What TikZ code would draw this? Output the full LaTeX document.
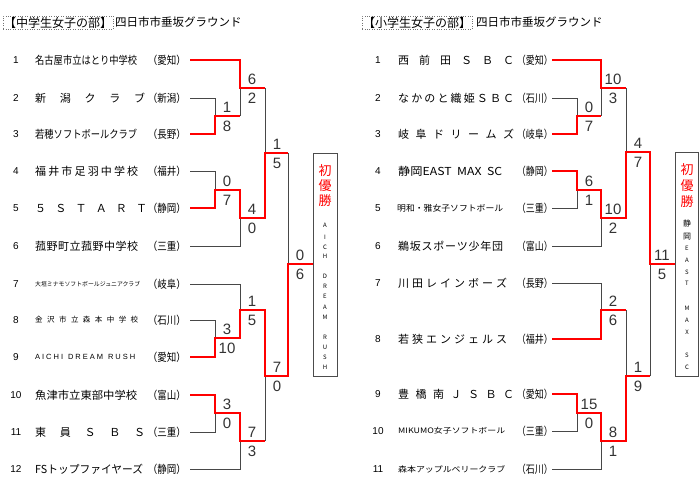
\documentclass[tikz,border=0pt]{standalone}
\usepackage{fontspec}
\usepackage{graphicx}
\setmainfont{Liberation Sans}
\newfontfamily\jp{Noto Sans CJK JP}
\newfontfamily\ar{Liberation Sans}
\newcommand\fitw[3]{\resizebox{#1pt}{\height}{\fontsize{#2}{#2}\selectfont #3}}
\newcommand\spr[3]{\makebox[#1pt][s]{\fontsize{#2}{#2}\selectfont #3}}
\tikzset{
  loseline/.style={draw=black!72, line width=0.9pt},
  winline/.style={draw=red, line width=2.4pt, line join=miter},
  score/.style={font=\ar\fontsize{15}{15}\selectfont, text=black!80, inner sep=0pt},
  scoreup/.style={score, xshift=12pt, yshift=9pt},
  scoredn/.style={score, xshift=12pt, yshift=-10pt},
  rownum/.style={font=\ar\fontsize{10}{10}\selectfont, inner sep=0pt},
  tname/.style={anchor=west, inner sep=0pt, font=\jp\fontsize{11}{11}\selectfont},
  pref/.style={anchor=east, inner sep=0pt, font=\jp},
  champbox/.style={draw=black!70, line width=0.8pt, inner sep=0pt},
  champtxt/.style={text=red, font=\jp\fontsize{13}{13}\selectfont, inner sep=0pt},
  tinytxt/.style={font=\jp\fontsize{6}{6}\selectfont, inner sep=0pt},
  titlebox/.style={draw=black!55, dotted, inner sep=1pt, anchor=west, font=\jp\fontsize{12}{12}\selectfont},
  titletxt/.style={anchor=west, inner sep=0pt, font=\jp\fontsize{11.5}{11.5}\selectfont}
}
\begin{document}
\begin{tikzpicture}[x=1pt,y=-1pt]
\useasboundingbox (0,0) rectangle (700,489);

% ===== titles =====
\node[titlebox] (tl1) at (3,22.5) {【中学生女子の部】};
\node[titletxt] (tl2) at (115,22.5) {四日市市垂坂グラウンド};
\node[titlebox] (tr1) at (362,22.5) {【小学生女子の部】};
\node[titletxt] (tr2) at (476,22.5) {四日市市垂坂グラウンド};

% ===== LEFT: row numbers =====
\foreach \n/\y in {1/60,2/98,3/134,4/171,5/208,6/246,7/284,8/320,9/357,10/395,11/432,12/469}
  \node[rownum] (ln\n) at (16,\y) {\n};

% ===== LEFT: team names =====
\node[tname] (na1) at (35,60) {\fitw{102}{11}{名古屋市立はとり中学校}};
\node[tname] (na2) at (35,98) {\spr{110}{11}{新\hfill 潟\hfill ク\hfill ラ\hfill ブ}};
\node[tname] (na3) at (35,134) {\fitw{102}{11}{若穂ソフトボールクラブ}};
\node[tname] (na4) at (35,171) {\spr{103}{11}{福\hfill 井\hfill 市\hfill 足\hfill 羽\hfill 中\hfill 学\hfill 校}};
\node[tname] (na5) at (35,208) {\spr{112}{11}{５\hfill Ｓ\hfill Ｔ\hfill Ａ\hfill Ｒ\hfill Ｔ}};
\node[tname] (na6) at (35,246) {\spr{103}{11}{菰\hfill 野\hfill 町\hfill 立\hfill 菰\hfill 野\hfill 中\hfill 学\hfill 校}};
\node[tname] (na7) at (35,284) {\fitw{105}{6}{大垣ミナモソフトボールジュニアクラブ}};
\node[tname] (na8) at (35,320) {\spr{103}{7.5}{金\hfill 沢\hfill 市\hfill 立\hfill 森\hfill 本\hfill 中\hfill 学\hfill 校}};
\node[tname] (na9) at (35,357) {\spr{100}{7.5}{\ar A\hfill I\hfill C\hfill H\hfill I\hskip 0pt plus 2.5fill D\hfill R\hfill E\hfill A\hfill M\hskip 0pt plus 2.5fill R\hfill U\hfill S\hfill H}};
\node[tname] (na10) at (35,395) {\fitw{102}{11}{魚津市立東部中学校}};
\node[tname] (na11) at (35,432) {\spr{110}{11}{東\hfill 員\hfill Ｓ\hfill Ｂ\hfill Ｓ}};
\node[tname] (na12) at (35,469) {\fitw{108}{11}{FSトップファイヤーズ}};

% ===== LEFT: prefectures =====
\foreach \n/\y/\p in {1/60/愛知,2/98/新潟,3/134/長野,4/171/福井,5/208/静岡,6/246/三重,7/284/岐阜,8/320/石川,9/357/愛知,10/395/富山,11/432/三重,12/469/静岡}
  \node[pref] (pa\n) at (186,\y) {\fitw{38}{11}{（\p）}};

% ===== LEFT: bracket =====
\foreach \n/\y in {1/60,2/98,3/134,4/171,5/208,6/246,7/284,8/320,9/357,10/395,11/432,12/469}
  \coordinate (L\n) at (190,\y);
\coordinate (jA) at (215,116);
\coordinate (jB) at (240,88);
\coordinate (jC) at (215,190);
\coordinate (jD) at (240,218);
\coordinate (jE) at (265,153);
\coordinate (jF) at (215,338);
\coordinate (jG) at (240,310);
\coordinate (jH) at (215,413);
\coordinate (jI) at (240,441);
\coordinate (jJ) at (265,376);
\coordinate (jK) at (288,264);
\node[champbox, minimum width=24pt, minimum height=223pt] (cbL) at (325,264.5) {};

\draw[loseline] (L2) -| (jA);
\draw[loseline] (jA -| jB) -- (jB);
\draw[loseline] (jB -| jE) -- (jE);
\draw[loseline] (L4) -| (jC);
\draw[loseline] (L6) -| (jD);
\draw[loseline] (jE -| jK) -- (jK);
\draw[loseline] (L7) -| (jG);
\draw[loseline] (L8) -| (jF);
\draw[loseline] (jI -| jJ) -- (jJ);
\draw[loseline] (L11) -| (jH);
\draw[loseline] (L12) -| (jI);

\draw[winline] (L3) -| (jA) -- (jA -| jB);
\draw[winline] (L1) -| (jB) -- (jB -| jE);
\draw[winline] (L5) -| (jC) -- (jC -| jD) -- (jD) -- (jD -| jE) -- (jE) -- (jE -| jK);
\draw[winline] (L9) -| (jF) -- (jF -| jG) -- (jG) -- (jG -| jJ) -- (jJ) -- (jJ -| jK) -- (jK) -- (cbL.west |- jK);
\draw[winline] (L10) -| (jH) -- (jH -| jI) -- (jI) -- (jI -| jJ);

% ===== LEFT: scores =====
\node[scoreup] (sAa) at (jA) {1};  \node[scoredn] (sAb) at (jA) {8};
\node[scoreup] (sBa) at (jB) {6};  \node[scoredn] (sBb) at (jB) {2};
\node[scoreup] (sCa) at (jC) {0};  \node[scoredn] (sCb) at (jC) {7};
\node[scoreup] (sDa) at (jD) {4};  \node[scoredn] (sDb) at (jD) {0};
\node[scoreup] (sEa) at (jE) {1};  \node[scoredn] (sEb) at (jE) {5};
\node[scoreup] (sFa) at (jF) {3};  \node[scoredn] (sFb) at (jF) {10};
\node[scoreup] (sGa) at (jG) {1};  \node[scoredn] (sGb) at (jG) {5};
\node[scoreup] (sHa) at (jH) {3};  \node[scoredn] (sHb) at (jH) {0};
\node[scoreup] (sIa) at (jI) {7};  \node[scoredn] (sIb) at (jI) {3};
\node[scoreup] (sJa) at (jJ) {7};  \node[scoredn] (sJb) at (jJ) {0};
\node[scoreup] (sKa) at (jK) {0};  \node[scoredn] (sKb) at (jK) {6};

% ===== LEFT: champion text =====
\foreach \c/\y [count=\i] in {初/171,優/186,勝/201}
  \node[champtxt] (cla\i) at (325,\y) {\c};
\foreach \c/\y [count=\i] in {A/225,I/237,C/247,H/256,D/276,R/286,E/296,A/307,M/317,R/337,U/347,S/357,H/367}
  \node[tinytxt] (clb\i) at (325,\y) {\c};

% ===== RIGHT: row numbers =====
\foreach \n/\y in {1/60,2/98,3/134,4/171,5/208,6/246,7/283,8/339,9/394,10/431,11/469}
  \node[rownum] (rn\n) at (378,\y) {\n};

% ===== RIGHT: team names =====
\node[tname] (nb1) at (398,60) {\spr{116}{11}{西\hfill 前\hfill 田\hfill Ｓ\hfill Ｂ\hfill Ｃ}};
\node[tname] (nb2) at (398,98) {\spr{116}{11}{な\hfill か\hfill の\hfill と\hfill 織\hfill 姫\hfill Ｓ\hfill Ｂ\hfill Ｃ}};
\node[tname] (nb3) at (398,134) {\spr{116}{11}{岐\hfill 阜\hfill ド\hfill リ\hfill ー\hfill ム\hfill ズ}};
\node[tname] (nb4) at (398,171) {\fitw{104}{11}{静岡EAST\ \ MAX\ \ SC}};
\node[tname] (nb5) at (397,208) {\fitw{106}{8.5}{明和・雅女子ソフトボール}};
\node[tname] (nb6) at (398,246) {\spr{105}{11}{鵜\hfill 坂\hfill ス\hfill ポ\hfill ー\hfill ツ\hfill 少\hfill 年\hfill 団}};
\node[tname] (nb7) at (398,283) {\spr{109}{11}{川\hfill 田\hfill レ\hfill イ\hfill ン\hfill ボ\hfill ー\hfill ズ}};
\node[tname] (nb8) at (398,339) {\spr{109}{11}{若\hfill 狭\hfill エ\hfill ン\hfill ジ\hfill ェ\hfill ル\hfill ス}};
\node[tname] (nb9) at (398,394) {\spr{116}{11}{豊\hfill 橋\hfill 南\hfill Ｊ\hfill Ｓ\hfill Ｂ\hfill Ｃ}};
\node[tname] (nb10) at (398,431) {\fitw{107}{7.5}{MIKUMO女子ソフトボール}};
\node[tname] (nb11) at (398,469) {\fitw{107}{8}{森本アップルベリークラブ}};

% ===== RIGHT: prefectures =====
\foreach \n/\y/\p in {1/60/愛知,2/98/石川,3/134/岐阜,4/171/静岡,5/208/三重,6/246/富山,7/283/長野,8/339/福井,9/394/愛知,10/431/三重,11/469/石川}
  \node[pref] (pb\n) at (553,\y) {\fitw{36}{11}{（\p）}};

% ===== RIGHT: bracket =====
\foreach \n/\y in {1/60,2/98,3/134,4/171,5/208,6/246,7/283,8/339,9/394,10/431,11/469}
  \coordinate (R\n) at (552,\y);
\coordinate (kA) at (577,116);
\coordinate (kB) at (601,88);
\coordinate (kC) at (577,190);
\coordinate (kD) at (601,218);
\coordinate (kE) at (626,152);
\coordinate (kF) at (601,310);
\coordinate (kG) at (577,413);
\coordinate (kH) at (601,441);
\coordinate (kI) at (626,376);
\coordinate (kK) at (650,264);
\node[champbox, minimum width=23pt, minimum height=224pt] (cbR) at (686.5,264) {};

\draw[loseline] (R2) -| (kA);
\draw[loseline] (kA -| kB) -- (kB);
\draw[loseline] (kB -| kE) -- (kE);
\draw[loseline] (R5) -| (kC);
\draw[loseline] (R6) -| (kD);
\draw[loseline] (R7) -| (kF);
\draw[loseline] (kF -| kI) -- (kI);
\draw[loseline] (R10) -| (kG);
\draw[loseline] (R11) -| (kH);
\draw[loseline] (kI -| kK) -- (kK);

\draw[winline] (R3) -| (kA) -- (kA -| kB);
\draw[winline] (R1) -| (kB) -- (kB -| kE);
\draw[winline] (R4) -| (kC) -- (kC -| kD) -- (kD) -- (kD -| kE) -- (kE) -- (kE -| kK) -- (kK) -- (cbR.west |- kK);
\draw[winline] (R8) -| (kF) -- (kF -| kI);
\draw[winline] (R9) -| (kG) -- (kG -| kH) -- (kH) -- (kH -| kI) -- (kI) -- (kI -| kK);

% ===== RIGHT: scores =====
\node[scoreup] (tAa) at (kA) {0};  \node[scoredn] (tAb) at (kA) {7};
\node[scoreup] (tBa) at (kB) {10}; \node[scoredn] (tBb) at (kB) {3};
\node[scoreup] (tCa) at (kC) {6};  \node[scoredn] (tCb) at (kC) {1};
\node[scoreup] (tDa) at (kD) {10}; \node[scoredn] (tDb) at (kD) {2};
\node[scoreup] (tEa) at (kE) {4};  \node[scoredn] (tEb) at (kE) {7};
\node[scoreup] (tFa) at (kF) {2};  \node[scoredn] (tFb) at (kF) {6};
\node[scoreup] (tGa) at (kG) {15}; \node[scoredn] (tGb) at (kG) {0};
\node[scoreup] (tHa) at (kH) {8};  \node[scoredn] (tHb) at (kH) {1};
\node[scoreup] (tIa) at (kI) {1};  \node[scoredn] (tIb) at (kI) {9};
\node[scoreup] (tKa) at (kK) {11}; \node[scoredn] (tKb) at (kK) {5};

% ===== RIGHT: champion text =====
\foreach \c/\y [count=\i] in {初/170,優/186,勝/202}
  \node[champtxt] (cra\i) at (687,\y) {\c};
\foreach \c/\y [count=\i] in {静/223,岡/237}
  \node[font=\jp\fontsize{8}{8}\selectfont, inner sep=0pt] (crb\i) at (687,\y) {\c};
\foreach \c/\y [count=\i] in {E/248,A/260,S/272,T/283,M/308,A/320,X/332,S/355,C/367}
  \node[tinytxt] (crc\i) at (687,\y) {\c};
\end{tikzpicture}
\end{document}
